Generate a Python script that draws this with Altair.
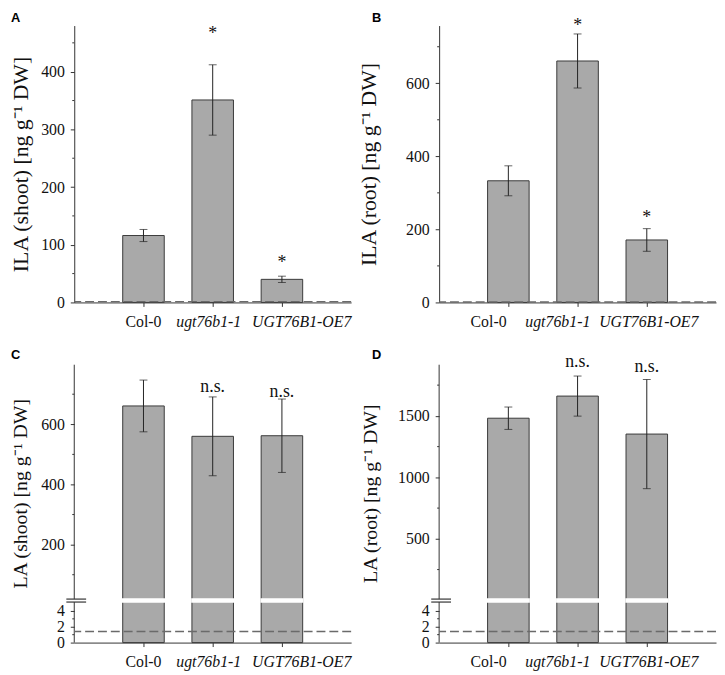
import altair as alt
import pandas as pd

genotypes = ["Col-0", "ugt76b1-1", "UGT76B1-OE7"]
panel_letters = ["A", "B", "C", "D"]

# Panel A: ILA (shoot)
ila_shoot = [116, 351, 40]
ila_shoot_sd = [10.5, 61, 5.5]
ila_shoot_sig = ["", "*", "*"]
ila_shoot_sig_y = [0, 463, 67]

# Panel B: ILA (root)
ila_root = [333, 661, 171]
ila_root_sd = [41, 74, 31]
ila_root_sig = ["", "*", "*"]
ila_root_sig_y = [0, 753, 227]

# Panel C: LA (shoot)
la_shoot = [661, 560, 562]
la_shoot_sd = [86, 131, 122]
la_shoot_sig = ["", "n.s.", "n.s."]
la_shoot_sig_y = [0, 721, 705]

# Panel D: LA (root)
la_root = [1481, 1661, 1352]
la_root_sd = [91, 163, 444]
la_root_sig = ["", "n.s.", "n.s."]
la_root_sig_y = [0, 1930, 1890]

detection_limit = [1.4]

# axis ticks
a_major, a_minor = [0, 100, 200, 300, 400], [50, 150, 250, 350, 450]
b_major, b_minor = [0, 200, 400, 600], [100, 300, 500, 700]
c_major, c_minor = [0, 2, 4, 200, 400, 600], [1, 3, 100, 300, 500, 700]
d_major, d_minor = [0, 2, 4, 500, 1000, 1500], [1, 3, 250, 750, 1250, 1750]

# broken-axis segments (lower segment, upper segment)
c_segments = [(0, 5.125), (19, 798)]
d_segments = [(0, 5.1), (10, 1916)]

FONT = "Liberation Serif"
AX = "#333333"
TXT = "#111111"
W = 280
H_TOP = 280
H_BOT = 281
GAP = 3
LOW_PX = 41


def make_df(vals, sds, sig, sig_y):
    return pd.DataFrame({
        "geno": genotypes,
        "value": vals,
        "lo": [v - s for v, s in zip(vals, sds)],
        "hi": [v + s for v, s in zip(vals, sds)],
        "sig": sig,
        "sig_y": sig_y,
    })


def x_enc(offsets):
    cond = {
        "condition": [
            {"test": f"datum.value === '{g}'", "value": o}
            for g, o in zip(genotypes, offsets)
        ],
        "value": 0,
    }
    axis = alt.Axis(
        title=None, labelFont=FONT, labelFontSize=16, labelColor=TXT,
        labelAngle=0, tickSize=4, labelPadding=7, domainColor=AX,
        tickColor=AX, grid=False, labelOverlap=False,
        labelOffset=cond,
        labelFontStyle={"condition": {"test": "datum.value !== 'Col-0'", "value": "italic"},
                        "value": "normal"},
    )
    return alt.X("geno:N", sort=genotypes,
                 scale=alt.Scale(domain=genotypes, paddingInner=0.4, paddingOuter=0.7),
                 axis=axis)


def y_axis(major, title, title_size, extent, tpad, show_domain=True, title_y=None):
    kw = dict(
        values=major, labelFont=FONT, labelFontSize=16, labelColor=TXT,
        tickSize=4, labelPadding=6, minExtent=extent, maxExtent=extent,
        domain=show_domain, domainColor=AX, tickColor=AX, grid=False,
        labelOverlap=False, format="d",
        title=title, titleFont=FONT, titleFontSize=title_size, titleFontWeight="normal",
        titleColor=TXT, titlePadding=tpad,
    )
    if title_y is not None:
        kw["titleY"] = title_y
    return alt.Axis(**kw)


def panel(df, major, minor, title, title_size, extent, tpad, offsets, letter, letter_x,
          letter_y, domain_top=None, segments=None, sig_dy=4, title_y=None):
    if segments is None:
        scale = alt.Scale(domain=[0, domain_top], nice=False, zero=False)
        height = H_TOP
    else:
        (l0, l1), (u0, u1) = segments
        height = H_BOT
        scale = alt.Scale(domain=[l0, l1, u0, u1],
                          range=[height, height - LOW_PX, height - LOW_PX - GAP, 0],
                          nice=False, zero=False)
    axis = y_axis(major, title, title_size, extent, tpad,
                  show_domain=segments is None, title_y=title_y)

    def Y(field):
        return alt.Y(f"{field}:Q", scale=scale, axis=axis)

    X = x_enc(offsets)
    base = alt.Chart(df)
    layers = [
        base.mark_bar(fill="#a9a9a9", stroke="#3a3a3a", strokeWidth=1)
        .encode(x=X, y=Y("value")),
        base.mark_rule(color="#222222", strokeWidth=1)
        .encode(x=X, y=Y("lo"), y2="hi:Q"),
        base.mark_tick(color="#222222", size=8, thickness=1)
        .encode(x=X, y=Y("lo")),
        base.mark_tick(color="#222222", size=8, thickness=1)
        .encode(x=X, y=Y("hi")),
        base.transform_filter("datum.sig != ''")
        .mark_text(font=FONT, fontSize=18, color=TXT, baseline="alphabetic", dy=sig_dy)
        .encode(x=X, y=Y("sig_y"), text="sig:N"),
    ]
    if segments is not None:
        (l0, l1), (u0, u1) = segments
        gap_df = pd.DataFrame({"geno": genotypes, "g0": [l1] * 3, "g1": [u0] * 3})
        seg_df = pd.DataFrame({"s0": [l0, u0], "s1": [l1, u1]})
        brk_df = pd.DataFrame({"b": [l1, u0]})
        layers += [
            # white break across the bars
            alt.Chart(gap_df).mark_bar(fill="white", stroke="white", strokeWidth=1.5)
            .encode(x=X, y=Y("g0"), y2="g1:Q"),
            # axis line in two pieces
            alt.Chart(seg_df).mark_rule(color=AX, strokeWidth=1)
            .encode(y=Y("s0"), y2="s1:Q", x=alt.value(0)),
            # break marks
            alt.Chart(brk_df).mark_rule(color=AX, strokeWidth=1.2)
            .encode(y=Y("b"), x=alt.value(-8), x2=alt.value(12)),
        ]
    layers += [
        # detection limit
        alt.Chart(pd.DataFrame({"lod": detection_limit}))
        .mark_rule(color="#6a6a6a", strokeDash=[9, 4], strokeWidth=1.5)
        .encode(y=Y("lod")),
        # minor ticks
        alt.Chart(pd.DataFrame({"m": minor}))
        .mark_rule(color=AX, strokeWidth=1)
        .encode(y=Y("m"), x=alt.value(-2), x2=alt.value(0)),
        # panel letter
        alt.Chart(pd.DataFrame({"letter": [letter]}))
        .mark_text(font="Liberation Sans", fontWeight="bold", fontSize=13,
                   color="#000000", align="left", baseline="top")
        .encode(text="letter:N", x=alt.value(letter_x), y=alt.value(letter_y)),
    ]
    return alt.layer(*layers).properties(width=W, height=height)


dfA = make_df(ila_shoot, ila_shoot_sd, ila_shoot_sig, ila_shoot_sig_y)
dfB = make_df(ila_root, ila_root_sd, ila_root_sig, ila_root_sig_y)
dfC = make_df(la_shoot, la_shoot_sd, la_shoot_sig, la_shoot_sig_y)
dfD = make_df(la_root, la_root_sd, la_root_sig, la_root_sig_y)

left_off = [0, -4, 20]
right_off = [-20, -20, 2]

A = panel(dfA, a_major, a_minor, "ILA (shoot) [ng g⁻¹ DW]", 22, 36, 6, left_off,
          panel_letters[0], -64, -14, domain_top=480, sig_dy=4)
B = panel(dfB, b_major, b_minor, "ILA (root) [ng g⁻¹ DW]", 22, 42, 17, right_off,
          panel_letters[1], -68, -14, domain_top=758, sig_dy=4)
C = panel(dfC, c_major, c_minor, "LA (shoot) [ng g⁻¹ DW]", 20, 36, 8, left_off,
          panel_letters[2], -64, -16, segments=c_segments, sig_dy=4, title_y=130)
D = panel(dfD, d_major, d_minor, "LA (root) [ng g⁻¹ DW]", 20, 42, 17, right_off,
          panel_letters[3], -68, -16, segments=d_segments, sig_dy=4, title_y=130)

chart = (
    alt.concat(A, B, C, D, columns=2, spacing={"row": 63, "column": 89}, bounds="flush")
    .properties(padding={"left": 2, "top": 0, "right": 0, "bottom": 0})
    .configure_view(stroke=None)
)

chart.save("out.html", embed_options={"renderer": "svg", "actions": False})
